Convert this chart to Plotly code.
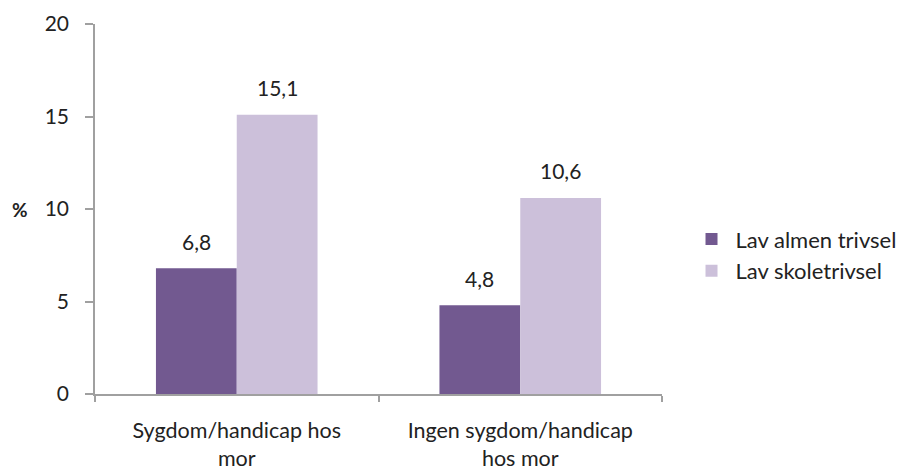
import plotly.graph_objects as go

categories = ["Sygdom/handicap hos<br>mor", "Ingen sygdom/handicap<br>hos mor"]
series_names = ["Lav almen trivsel", "Lav skoletrivsel"]
almen = [6.8, 4.8]
skole = [15.1, 10.6]
y_ticks = [0, 5, 10, 15, 20]

colors = ["#725990", "#CCC0DA"]
FONT = "Lato"
TXT = "#222222"

fig = go.Figure()
for name, vals, col in zip(series_names, [almen, skole], colors):
    fig.add_trace(go.Bar(
        x=categories, y=vals, name=name, marker=dict(color=col, line=dict(width=0)),
    ))

# value labels above bars
for vals, shift in zip([almen, skole], [-40.5, 40.5]):
    for c, v in zip(categories, vals):
        fig.add_annotation(x=c, y=v, xref="x", yref="y", text=f"{v:.1f}".replace(".", ","),
                           showarrow=False, xshift=shift, yshift=27, yanchor="middle",
                           font=dict(family=FONT, size=21, color=TXT))

fig.update_layout(
    barmode="group", bargap=0.43, bargroupgap=0,
    width=900, height=464,
    margin=dict(l=87, r=246, t=16, b=78, autoexpand=False),
    plot_bgcolor="white", paper_bgcolor="white",
    font=dict(family=FONT, size=21, color=TXT),
    legend=dict(x=1.045, y=0.375, xanchor="left", yanchor="middle",
                font=dict(family=FONT, size=22, color=TXT),
                itemwidth=38, tracegroupgap=0, traceorder="normal"),
    showlegend=True,
)
fig.update_xaxes(
    showline=True, linecolor="#A0A0A0", linewidth=1.5,
    ticks="outside", tickson="boundaries", ticklen=6, tickcolor="#A0A0A0", tickwidth=1.5,
    showgrid=False, ticklabelstandoff=16,
    tickfont=dict(family=FONT, size=21.5, color=TXT),
)
fig.update_yaxes(
    range=[0, 20], tickvals=y_ticks, showline=True, linecolor="#A0A0A0", linewidth=1.5,
    ticks="outside", ticklen=8, tickcolor="#A0A0A0", tickwidth=1.5,
    showgrid=False, zeroline=False, ticklabelstandoff=12,
    tickfont=dict(family=FONT, size=21, color=TXT),
)
fig.add_annotation(text="<b>%</b>", xref="paper", yref="y", x=-0.132, y=10,
                   showarrow=False, xanchor="center", yanchor="middle",
                   font=dict(family=FONT, size=19, color=TXT))
fig.write_html("out.html")
